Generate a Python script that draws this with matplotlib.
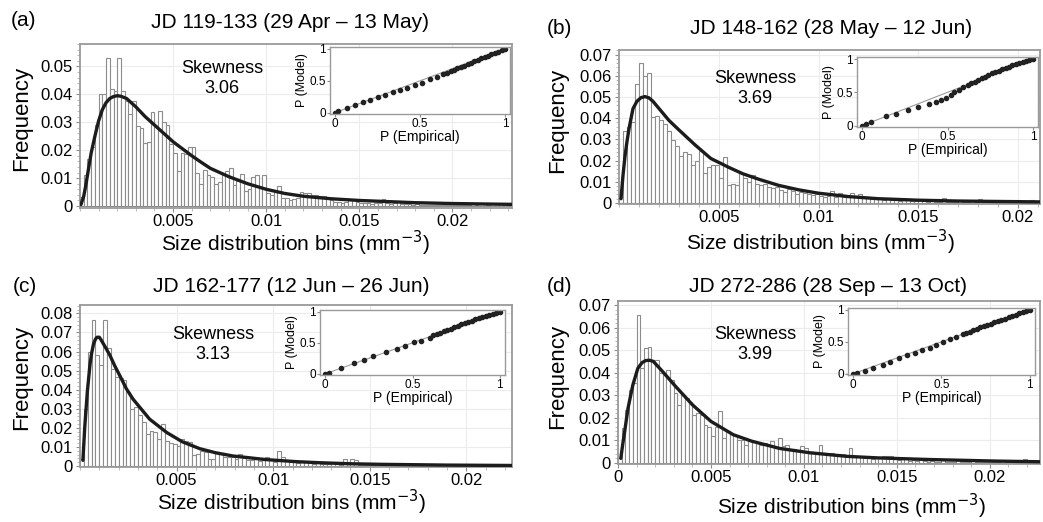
import matplotlib
matplotlib.use("Agg")
import matplotlib.pyplot as plt
import numpy as np
from matplotlib.ticker import MultipleLocator

plt.rcParams['font.family'] = ['Liberation Sans', 'DejaVu Sans']

W, H = 1043, 522
BIN_W = 0.0002

# ---- histogram heights (bins of 0.0002 starting at 0) ----
freq_a = [0.0034, 0.011, 0.017, 0.021, 0.029, 0.040, 0.040, 0.053, 0.042, 0.041,
          0.053, 0.041, 0.0375, 0.033, 0.0375, 0.0285, 0.028, 0.0225, 0.023, 0.0335,
          0.0285, 0.034, 0.030, 0.029, 0.0223, 0.019, 0.0124, 0.019, 0.0185, 0.0213,
          0.021, 0.012, 0.008, 0.013, 0.011, 0.0105, 0.008, 0.0085, 0.012, 0.0125,
          0.0135, 0.0075, 0.009, 0.0115, 0.0055, 0.006, 0.0105, 0.011, 0.0065, 0.011,
          0.0045, 0.004, 0.005, 0.007, 0.003, 0.0028, 0.002, 0.0025, 0.003, 0.005,
          0.0045, 0.0045, 0.004, 0.004, 0.0035, 0.0035, 0.003, 0.002, 0.0015, 0.0015,
          0.001, 0.0015, 0.002, 0.0022, 0.0015, 0.001, 0.0012, 0.001, 0.0008, 0.001,
          0.0012, 0.0024, 0.001, 0.0008, 0.001, 0.0018, 0.0008, 0.0006, 0.0008, 0.0005,
          0.0006, 0.0004, 0.0005, 0.0004, 0.0003, 0.0004, 0.0003, 0.0004, 0.0002, 0.0003,
          0.0002, 0.0003, 0.0002, 0.0002, 0.0002, 0.0001, 0.0002, 0.0001, 0.0001, 0.0002,
          0.0001, 0.0001, 0.0001, 0.0001, 0.0001, 0.0012]
freq_b = [0.003, 0.034, 0.036, 0.038, 0.056, 0.066, 0.060, 0.0615, 0.0405, 0.041,
          0.039, 0.0375, 0.034, 0.0297, 0.027, 0.022, 0.024, 0.023, 0.018, 0.020,
          0.0247, 0.014, 0.017, 0.018, 0.018, 0.0116, 0.0215, 0.0085, 0.009, 0.0085,
          0.0143, 0.012, 0.010, 0.013, 0.009, 0.0083, 0.009, 0.0075, 0.007, 0.0075,
          0.006, 0.0052, 0.0068, 0.0055, 0.0044, 0.005, 0.0045, 0.004, 0.0036, 0.004,
          0.0035, 0.003, 0.0035, 0.0057, 0.003, 0.0048, 0.003, 0.003, 0.0048, 0.0032,
          0.0042, 0.0025, 0.0028, 0.002, 0.0018, 0.0022, 0.0015, 0.0025, 0.0015, 0.0012,
          0.001, 0.0012, 0.002, 0.0009, 0.001, 0.0016, 0.0008, 0.0006, 0.0008, 0.0005,
          0.0006, 0.0024, 0.0005, 0.0004, 0.0003, 0.0012, 0.0003, 0.0004, 0.0002, 0.0003,
          0.0018, 0.0002, 0.0003, 0.0002, 0.0002, 0.0001, 0.0002, 0.0001, 0.0001, 0.0001,
          0.0001, 0.0002, 0.0001, 0.0013, 0.0001]
freq_c = [0.0035, 0.030, 0.060, 0.0765, 0.058, 0.053, 0.0765, 0.062, 0.051, 0.0466,
          0.046, 0.045, 0.0387, 0.030, 0.031, 0.027, 0.023, 0.0167, 0.0185, 0.018,
          0.014, 0.022, 0.013, 0.0123, 0.0114, 0.0105, 0.014, 0.013, 0.0125, 0.006,
          0.0065, 0.008, 0.0075, 0.0035, 0.0038, 0.007, 0.0065, 0.0045, 0.005, 0.0045,
          0.0035, 0.0065, 0.004, 0.003, 0.0032, 0.0035, 0.0025, 0.003, 0.005, 0.003,
          0.002, 0.0079, 0.0045, 0.0025, 0.002, 0.0022, 0.0018, 0.0022, 0.002, 0.0015,
          0.0012, 0.0015, 0.001, 0.0012, 0.001, 0.0018, 0.001, 0.0008, 0.0035, 0.0012,
          0.0035, 0.0032, 0.0008, 0.0006, 0.0005, 0.0006, 0.0004, 0.0005, 0.0003, 0.0004,
          0.0003, 0.0005, 0.0003, 0.0004, 0.0002, 0.0003, 0.0002, 0.0003, 0.0002, 0.0002,
          0.0002, 0.0001, 0.0002, 0.0002, 0.0001, 0.0002, 0.0001, 0.0001, 0.0002, 0.0001,
          0.0001, 0.0001, 0.0002, 0.0001, 0.0001, 0.0001, 0.0001, 0.0001, 0.0001, 0.0001,
          0.0001, 0.0001]
freq_d = [0.002, 0.0155, 0.0235, 0.0324, 0.0353, 0.0655, 0.042, 0.0508, 0.0515, 0.0456,
          0.0456, 0.0398, 0.039, 0.041, 0.0368, 0.031, 0.0258, 0.030, 0.0287, 0.027,
          0.0214, 0.022, 0.0214, 0.017, 0.016, 0.0118, 0.016, 0.0228, 0.011, 0.014,
          0.0133, 0.0125, 0.0103, 0.0103, 0.0081, 0.0103, 0.0099, 0.0088, 0.0081, 0.0088,
          0.0081, 0.0099, 0.0066, 0.011, 0.0075, 0.0078, 0.006, 0.006, 0.0052, 0.0074,
          0.0068, 0.0045, 0.005, 0.0042, 0.0081, 0.0045, 0.004, 0.0045, 0.0035, 0.004,
          0.0038, 0.003, 0.0066, 0.0028, 0.003, 0.0025, 0.002, 0.0025, 0.0018, 0.002,
          0.0022, 0.0032, 0.0032, 0.003, 0.0015, 0.0012, 0.0015, 0.002, 0.001, 0.0012,
          0.0008, 0.0015, 0.0008, 0.0006, 0.0008, 0.0006, 0.0005, 0.0012, 0.0005, 0.0004,
          0.0004, 0.0012, 0.0003, 0.0004, 0.0003, 0.0012, 0.0003, 0.0002, 0.0003, 0.0002,
          0.0005, 0.0002, 0.0002, 0.0001, 0.0002, 0.0001, 0.0001, 0.0002, 0.0001, 0.0015,
          0.0001, 0.0001, 0.0001, 0.0001]

# ---- fitted curves ----
curve_a_x = [0.00005, 0.0002, 0.0003, 0.0004, 0.0005, 0.0006, 0.0008, 0.001, 0.0012, 0.0014,
             0.0016, 0.0018, 0.002, 0.0022, 0.0025, 0.003, 0.0035, 0.004, 0.0045, 0.005,
             0.0055, 0.006, 0.0065, 0.007, 0.0075, 0.008, 0.009, 0.010, 0.011, 0.012,
             0.0135, 0.015, 0.0165, 0.018, 0.020, 0.0232]
curve_a_y = [0.0005, 0.0035, 0.007, 0.011, 0.015, 0.019, 0.025, 0.0305, 0.0345, 0.037,
             0.0385, 0.0392, 0.0395, 0.0393, 0.0385, 0.0355, 0.032, 0.029, 0.026, 0.023,
             0.0205, 0.018, 0.0157, 0.0135, 0.012, 0.0105, 0.008, 0.006, 0.0045, 0.0035,
             0.0026, 0.002, 0.0016, 0.0012, 0.0009, 0.0006]
curve_b_x = [0.0001, 0.0002, 0.0003, 0.0004, 0.0005, 0.0007, 0.0009, 0.0011, 0.0013, 0.0015,
             0.0017, 0.0021, 0.0025, 0.003, 0.0038, 0.0046, 0.0055, 0.0062, 0.007, 0.008,
             0.009, 0.010, 0.0115, 0.013, 0.015, 0.017, 0.019, 0.0211]
curve_b_y = [0.002, 0.013, 0.022, 0.029, 0.035, 0.0445, 0.048, 0.0497, 0.0502, 0.0496,
             0.048, 0.0435, 0.039, 0.0345, 0.0275, 0.021, 0.0168, 0.0138, 0.0112, 0.0083,
             0.0062, 0.0046, 0.003, 0.002, 0.0013, 0.0009, 0.0007, 0.0005]
curve_c_x = [0.00015, 0.00025, 0.00038, 0.00052, 0.0006, 0.0007, 0.0008, 0.00088, 0.001,
             0.0011, 0.0013, 0.00155, 0.0018, 0.0021, 0.0024, 0.00275, 0.0032, 0.0036,
             0.0045, 0.0053, 0.0062, 0.007, 0.0079, 0.0096, 0.0112, 0.0125, 0.014,
             0.0156, 0.019, 0.0224]
curve_c_y = [0.003, 0.021, 0.039, 0.0535, 0.059, 0.064, 0.0665, 0.0675, 0.0675, 0.066,
             0.0625, 0.058, 0.0525, 0.0466, 0.0405, 0.035, 0.0295, 0.0246, 0.0175, 0.0127,
             0.0091, 0.007, 0.0053, 0.0034, 0.0023, 0.0017, 0.0012, 0.0009, 0.0005, 0.0003]
curve_d_x = [0.00015, 0.00025, 0.00036, 0.00054, 0.0008, 0.00107, 0.0013, 0.0015, 0.0017,
             0.0019, 0.0024, 0.0031, 0.004, 0.005, 0.0062, 0.0072, 0.0087, 0.0103, 0.0123,
             0.014, 0.0167, 0.0203, 0.0227]
curve_d_y = [0.002, 0.008, 0.014, 0.0243, 0.0346, 0.042, 0.0445, 0.0454, 0.0455, 0.045,
             0.0405, 0.0339, 0.0258, 0.0184, 0.0125, 0.0096, 0.0064, 0.0045, 0.0029,
             0.0022, 0.0015, 0.0008, 0.0005]

# ---- P-P plot points ----
pp_a_emp = [0.0, 0.02, 0.07, 0.12, 0.167, 0.206, 0.255, 0.294, 0.343, 0.382, 0.422, 0.47,
            0.51, 0.56, 0.6, 0.637, 0.66, 0.68, 0.70, 0.72, 0.74, 0.76, 0.78, 0.80, 0.82,
            0.84, 0.86, 0.88, 0.90, 0.92, 0.94, 0.96, 0.98, 1.0]
pp_a_mod = [0.0, 0.026, 0.077, 0.128, 0.164, 0.205, 0.241, 0.282, 0.323, 0.359, 0.395, 0.436,
            0.472, 0.523, 0.564, 0.605, 0.63, 0.65, 0.675, 0.695, 0.72, 0.74, 0.76, 0.785,
            0.805, 0.83, 0.85, 0.87, 0.89, 0.915, 0.935, 0.955, 0.98, 1.0]
pp_b_emp = [0.0, 0.02, 0.05, 0.14, 0.2, 0.27, 0.33, 0.39, 0.43, 0.46, 0.49, 0.52, 0.54,
            0.57, 0.59, 0.62, 0.64, 0.66, 0.68, 0.70, 0.72, 0.74, 0.76, 0.78, 0.80, 0.82,
            0.84, 0.86, 0.88, 0.90, 0.92, 0.94, 0.96, 0.98, 1.0]
pp_b_mod = [0.0, 0.026, 0.05, 0.14, 0.18, 0.24, 0.28, 0.32, 0.355, 0.385, 0.42, 0.455, 0.5,
            0.54, 0.58, 0.61, 0.635, 0.66, 0.685, 0.71, 0.735, 0.76, 0.785, 0.805, 0.825,
            0.845, 0.865, 0.885, 0.905, 0.925, 0.945, 0.96, 0.975, 0.99, 1.0]
pp_c_emp = [0.0, 0.023, 0.088, 0.164, 0.22, 0.276, 0.35, 0.41, 0.455, 0.51, 0.55, 0.6,
            0.62, 0.64, 0.66, 0.68, 0.70, 0.72, 0.74, 0.76, 0.78, 0.80, 0.82, 0.84, 0.86,
            0.88, 0.90, 0.92, 0.94, 0.96, 0.98, 1.0]
pp_c_mod = [0.0, 0.02, 0.089, 0.167, 0.23, 0.286, 0.35, 0.40, 0.45, 0.505, 0.53, 0.58,
            0.625, 0.645, 0.665, 0.69, 0.71, 0.73, 0.755, 0.775, 0.8, 0.82, 0.84, 0.86,
            0.88, 0.9, 0.915, 0.935, 0.955, 0.97, 0.985, 1.0]
pp_d_emp = [0.0, 0.02, 0.065, 0.11, 0.167, 0.21, 0.26, 0.305, 0.35, 0.39, 0.435, 0.47,
            0.51, 0.546, 0.583, 0.62, 0.64, 0.66, 0.68, 0.70, 0.72, 0.74, 0.76, 0.78, 0.80,
            0.82, 0.84, 0.86, 0.88, 0.90, 0.92, 0.94, 0.96, 0.98, 1.0]
pp_d_mod = [0.0, 0.016, 0.05, 0.09, 0.142, 0.19, 0.247, 0.29, 0.326, 0.37, 0.405, 0.447,
            0.49, 0.537, 0.58, 0.62, 0.64, 0.66, 0.685, 0.705, 0.725, 0.745, 0.765, 0.785,
            0.805, 0.825, 0.845, 0.865, 0.885, 0.905, 0.925, 0.945, 0.965, 0.985, 1.0]

titles = ["JD 119-133 (29 Apr \u2013 13 May)", "JD 148-162 (28 May \u2013 12 Jun)",
          "JD 162-177 (12 Jun \u2013 26 Jun)", "JD 272-286 (28 Sep \u2013 13 Oct)"]
letters = ["(a)", "(b)", "(c)", "(d)"]
skew = ["3.06", "3.69", "3.13", "3.99"]
ymax_ticks = [0.05, 0.07, 0.08, 0.07]
xlims = [(0, 0.0232), (0, 0.0211), (0, 0.02236), (0, 0.0227)]
ylims = [(-0.0007, 0.058), (-0.0005, 0.0722), (-0.0005, 0.0844), (-0.0005, 0.0718)]
xticks_list = [[0.005, 0.01, 0.015, 0.02], [0.005, 0.01, 0.015, 0.02],
               [0.005, 0.01, 0.015, 0.02], [0, 0.005, 0.01, 0.015, 0.02]]

freqs = [freq_a, freq_b, freq_c, freq_d]
curves = [(curve_a_x, curve_a_y), (curve_b_x, curve_b_y),
          (curve_c_x, curve_c_y), (curve_d_x, curve_d_y)]
pps = [(pp_a_emp, pp_a_mod), (pp_b_emp, pp_b_mod),
       (pp_c_emp, pp_c_mod), (pp_d_emp, pp_d_mod)]

# layout in pixels: main axes (left, top, right, bottom), inset box
main_box = [(80, 44, 512, 208), (619, 50, 1040, 204), (80, 305, 512, 467), (618, 301, 1040, 464)]
inset_box = [(330, 47, 510, 114), (857, 57, 1038, 127), (320, 310, 505, 375), (848, 308, 1035, 375)]
letter_pos = [(23, 20), (559, 28), (25, 286), (559, 286)]
title_pos = [(290, 23), (831, 28), (291, 286), (828, 286)]
freq_pos = [(22, 118), (558, 120), (22, 377), (558, 376)]
xlab_pos = [(295, 243), (820, 242), (291, 502), (851, 506)]
skew_pos = [(222, 60), (755, 70), (213, 326), (755, 326)]

EDGE = '#8c8c8c'


def box(b):
    l, t, r, bt = b
    return [l / W, 1 - bt / H, (r - l) / W, (bt - t) / H]


def fmt(v):
    return '0' if v == 0 else ('%g' % v)


fig = plt.figure(figsize=(W / 100, H / 100), dpi=100)

for i in range(4):
    ax = fig.add_axes(box(main_box[i]))
    vals = freqs[i]
    edges = np.arange(len(vals)) * BIN_W
    ax.bar(edges, vals, width=BIN_W, align='edge', facecolor='white',
           edgecolor=EDGE, linewidth=0.8, zorder=2)
    ax.plot(curves[i][0], curves[i][1], color='#1c1c1c', lw=2.4, zorder=3,
            solid_capstyle='round', solid_joinstyle='round')
    ax.set_xlim(*xlims[i])
    ax.set_ylim(*ylims[i])
    yt = np.round(np.arange(0, ymax_ticks[i] + 1e-9, 0.01), 2)
    ax.set_yticks(yt)
    ax.set_yticklabels([fmt(v) for v in yt])
    ax.set_xticks(xticks_list[i])
    ax.set_xticklabels([fmt(v) for v in xticks_list[i]])
    ax.yaxis.set_minor_locator(MultipleLocator(0.002))
    ax.xaxis.set_minor_locator(MultipleLocator(0.001))
    ax.tick_params(axis='both', which='major', labelsize=12, length=3, color=EDGE, pad=2)
    ax.tick_params(axis='x', which='major', pad=1)
    ax.tick_params(axis='both', which='minor', length=2, color='#b0b0b0')
    ax.grid(True, which='major', color='#ececec', lw=0.8, zorder=0)
    ax.set_axisbelow(True)
    for s in ax.spines.values():
        s.set_color('#9a9a9a')
        s.set_linewidth(1.3)

    # inset P-P plot
    ins = fig.add_axes(box(inset_box[i]))
    emp, mod = pps[i]
    ins.plot([0, 1], [0, 1], color='#9a9a9a', lw=0.8, zorder=1)
    ins.plot(emp, mod, 'o', color='#222222', ms=3, zorder=2)
    ins.set_xlim(-0.03, 1.03)
    ins.set_ylim(-0.02, 1.03)
    ins.set_xticks([0, 0.5, 1])
    ins.set_xticklabels(['0', '0.5', '1'])
    ins.set_yticks([0, 0.5, 1])
    ins.set_yticklabels(['0', '0.5', '1'])
    ins.tick_params(labelsize=8.5, length=2, pad=1, color=EDGE)
    ins.set_xlabel('P (Empirical)', fontsize=10, labelpad=0)
    ins.set_ylabel('P (Model)', fontsize=9, labelpad=1)
    for s in ins.spines.values():
        s.set_color('#9a9a9a')
        s.set_linewidth(1.0)

    fig.text(letter_pos[i][0] / W, 1 - letter_pos[i][1] / H, letters[i],
             fontsize=15, ha='center', va='center')
    fig.text(title_pos[i][0] / W, 1 - title_pos[i][1] / H, titles[i],
             fontsize=15, ha='center', va='center')
    fig.text(freq_pos[i][0] / W, 1 - freq_pos[i][1] / H, 'Frequency',
             fontsize=16, ha='center', va='center', rotation=90)
    fig.text(xlab_pos[i][0] / W, 1 - xlab_pos[i][1] / H,
             'Size distribution bins (mm$^{-3}$)',
             fontsize=15, ha='center', va='center')
    fig.text(skew_pos[i][0] / W, 1 - skew_pos[i][1] / H,
             'Skewness\n' + skew[i], fontsize=13, ha='center', va='top',
             linespacing=1.25)

fig.savefig('out.png', dpi=100, facecolor='white')
